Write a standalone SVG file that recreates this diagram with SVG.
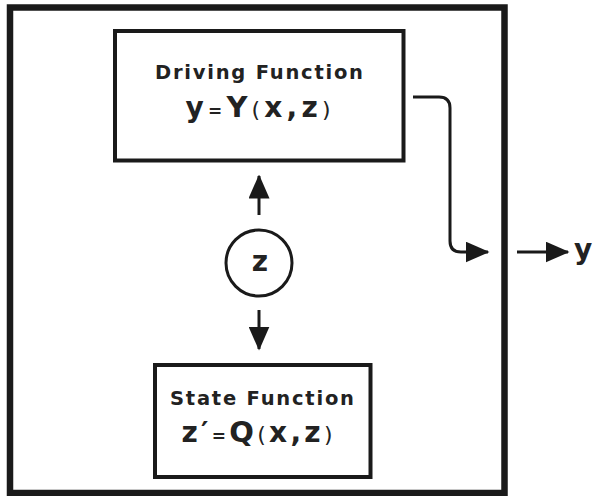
<svg xmlns="http://www.w3.org/2000/svg" width="593" height="496" viewBox="0 0 593 496">
<style>
.box{fill:none;stroke:#1a1a1a;stroke-width:4}
.outer{fill:none;stroke:#1a1a1a;stroke-width:6.5}
.line{fill:none;stroke:#1a1a1a;stroke-width:3}
.title{font-family:"DejaVu Sans","Liberation Sans",sans-serif;font-weight:bold;font-size:19.5px;fill:#222}
.eq{font-family:"DejaVu Sans","Liberation Sans",sans-serif;font-weight:bold;font-size:28px;fill:#222}
.sm{font-size:17px}
.br{font-size:22px;font-weight:normal}
</style>
<defs>
<marker id="ah" markerWidth="8" markerHeight="7" refX="7.5" refY="3.5" orient="auto" markerUnits="strokeWidth">
<path d="M0,0 L8,3.5 L0,7 Z" fill="#1a1a1a"/>
</marker>
</defs>
<rect x="0" y="0" width="593" height="496" fill="#ffffff"/>
<g id="system">
<rect class="outer" x="10" y="7.5" width="494.5" height="485.5"/>
</g>
<g id="driving">
<rect class="box" x="115" y="31" width="288.5" height="129.5"/>
<text class="title" x="259" y="79" text-anchor="middle" textLength="208" lengthAdjust="spacing">Driving Function</text>
<text class="eq" x="258" y="117" text-anchor="middle" textLength="145" lengthAdjust="spacing">y<tspan class="sm">=</tspan><tspan font-size="29">Y</tspan><tspan class="br">(</tspan>x,z<tspan class="br">)</tspan></text>
</g>
<g id="state">
<rect class="box" x="155" y="365" width="215.5" height="112"/>
<text class="title" x="262" y="405" text-anchor="middle" textLength="184" lengthAdjust="spacing">State Function</text>
<text class="eq" x="257" y="442" text-anchor="middle" textLength="151" lengthAdjust="spacing">z′<tspan class="sm">=</tspan><tspan font-size="29">Q</tspan><tspan class="br">(</tspan>x,z<tspan class="br">)</tspan></text>
</g>
<g id="zstate">
<circle cx="259" cy="263" r="33" fill="none" stroke="#1a1a1a" stroke-width="3"/>
<text class="eq" x="260" y="271" text-anchor="middle" font-size="30">z</text>
</g>
<g id="output">
<text class="eq" x="574" y="259" font-size="27">y</text>
</g>
<g id="connectors">
<path class="line" d="M259,215 L259,176" marker-end="url(#ah)"/>
<path class="line" d="M259,310 L259,349" marker-end="url(#ah)"/>
<path class="line" d="M413,97 L439,97 Q450,97 450,108 L450,241 Q450,252 461,252 L488,252" marker-end="url(#ah)"/>
<path class="line" d="M517,252 L568,252" marker-end="url(#ah)"/>
</g>
</svg>
